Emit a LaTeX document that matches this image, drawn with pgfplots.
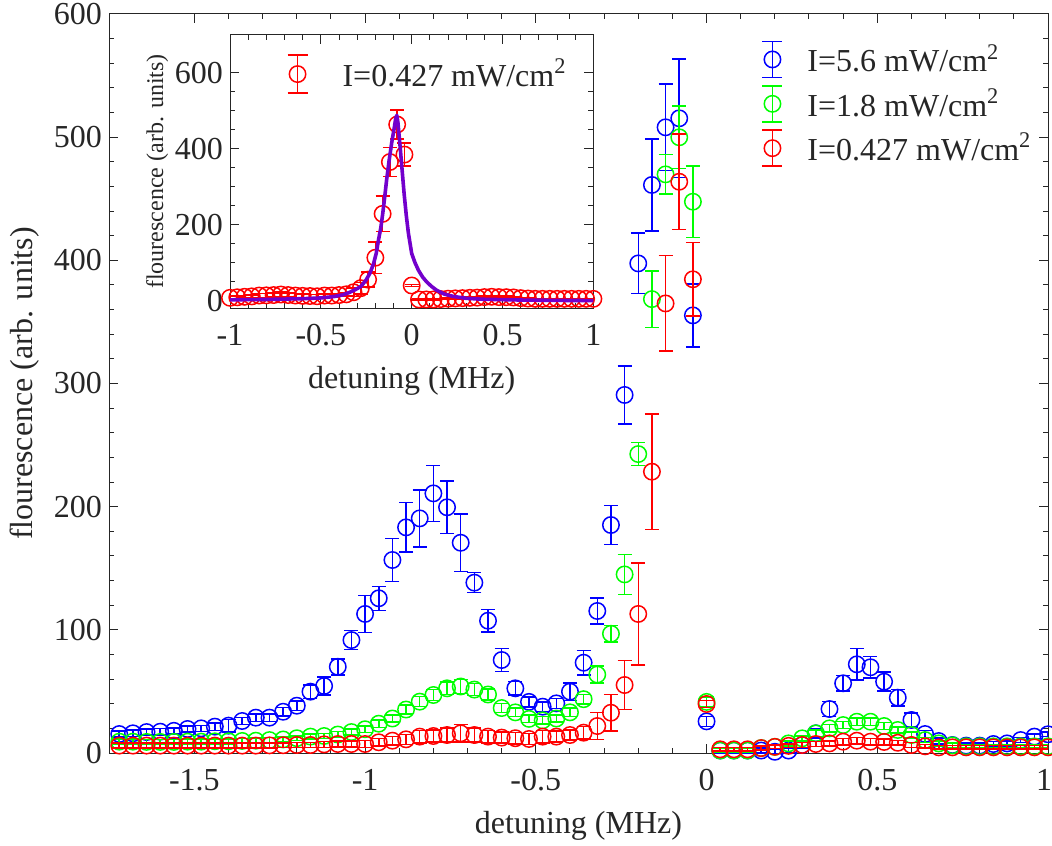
\documentclass[border=0pt]{standalone}
\usepackage{fontspec}
\setmainfont{Liberation Serif}
\usepackage{pgfplots}
\pgfplotsset{compat=1.18}
\usepackage{pgfplotstable}

\definecolor{mblue}{rgb}{0,0,1}
\definecolor{mgreen}{rgb}{0,1,0}
\definecolor{mred}{rgb}{1,0,0}
\definecolor{fitpurple}{rgb}{0.45,0.0,0.8}
\definecolor{axgray}{rgb}{0.15,0.15,0.15}
\newcommand\labfont{\fontsize{16pt}{19pt}\selectfont}
\newcommand\smallfont{\fontsize{12pt}{14pt}\selectfont}

\pgfplotstableread{
x y e
-1.72 15.4 2.5
-1.68 16.0 2.5
-1.64 17.0 2.5
-1.60 17.3 2.5
-1.56 18.0 2.5
-1.52 19.5 2.5
-1.48 20.0 2.5
-1.44 21.4 3
-1.40 22.2 5
-1.36 26.0 3
-1.32 28.7 3
-1.28 28.7 3
-1.24 33.5 3.5
-1.20 38.4 4
-1.16 49.8 5.4
-1.12 54.4 7.4
-1.08 70.0 6.5
-1.04 91.7 7.6
-1.00 112.9 15
-0.96 125.6 9.7
-0.92 156.7 17.3
-0.88 183.2 20.2
-0.84 190.5 23.1
-0.80 210.8 22.7
-0.76 199.5 21.2
-0.72 170.7 23.4
-0.68 138.3 8.1
-0.64 107.4 9.1
-0.60 75.5 9.5
-0.56 52.5 5.4
-0.52 41.5 4
-0.48 37.6 4
-0.44 40.3 4
-0.40 49.8 7
-0.36 73.3 9.9
-0.32 115.3 10.7
-0.28 185.1 15.8
-0.24 290.7 23.7
-0.20 397.5 24.6
-0.16 461.2 37.5
-0.12 508.0 35.2
-0.08 515.3 48.2
-0.04 355.3 25.5
0.00 25.7 4
0.04 2 2
0.08 2 2
0.12 2 2
0.16 2 2
0.20 1 2
0.24 2 2
0.28 6.5 3
0.32 16 4
0.36 35.7 6
0.40 56.6 6.4
0.44 72.0 12.9
0.48 69.6 8.8
0.52 57.9 7.7
0.56 44.9 6.8
0.60 26.8 5.7
0.64 15.4 3
0.68 9.7 2.5
0.72 6.5 2
0.76 6 2
0.80 6 2
0.84 7.3 2
0.88 7.8 2
0.92 10.5 2
0.96 13.3 2
1.00 15.2 2
}\blueT

\pgfplotstableread{
x y e
-1.72 9.2 2
-1.68 9.2 2
-1.64 9.0 2
-1.60 9.0 2
-1.56 9.0 2
-1.52 9.2 2
-1.48 9.2 2
-1.44 9.5 2
-1.40 9.5 2
-1.36 9.8 2
-1.32 10.0 2
-1.28 10.5 2
-1.24 11.0 2
-1.20 12.0 2
-1.16 13.3 2
-1.12 13.8 2
-1.08 15.0 2.5
-1.04 17.0 2.5
-1.00 19.3 2.5
-0.96 23.8 3
-0.92 28.0 3
-0.88 35.3 3.5
-0.84 41.7 4
-0.80 47.1 4.5
-0.76 52.5 5
-0.72 54.0 5.5
-0.68 51.5 5
-0.64 47.5 4.5
-0.60 36.5 3.5
-0.56 33.0 3.5
-0.52 27.7 3
-0.48 26.5 3
-0.44 28.0 3
-0.40 33.0 3.5
-0.36 43.7 4
-0.32 63.7 6.8
-0.28 96.8 6.8
-0.24 145.0 16.2
-0.20 242.7 9.3
-0.16 368.5 23
-0.12 469.8 16
-0.08 499.9 25.3
-0.04 447.6 29.1
0.00 41.5 4
0.04 2 1.5
0.08 2 1.5
0.12 2 1.5
0.16 4 1.5
0.20 5 1.5
0.24 7.8 2
0.28 11.9 2
0.32 16 2.5
0.36 20 3
0.40 22.7 3
0.44 25.4 3
0.48 25.4 3
0.52 21.9 3
0.56 18.7 2.5
0.60 14.6 2.5
0.64 10.5 2
0.68 7.8 2
0.72 6.2 2
0.76 5.4 1.5
0.80 5.4 1.5
0.84 5.4 1.5
0.88 5.4 1.5
0.92 5.4 1.5
0.96 5.4 1.5
1.00 5.4 1.5
}\greenT

\pgfplotstableread{
x y e
-1.72 6 2
-1.68 6 2
-1.64 6 2
-1.60 6 2
-1.56 6 2
-1.52 6 2
-1.48 6 2
-1.44 6 2
-1.40 6 2
-1.36 6 2
-1.32 6 2
-1.28 6.2 2
-1.24 6.3 2
-1.20 6.5 2
-1.16 6.5 2
-1.12 7.0 2.5
-1.08 7.3 2.5
-1.04 7.3 2.5
-1.00 7.3 3
-0.96 8.7 3
-0.92 10.0 3.5
-0.88 11.1 4
-0.84 13.3 5
-0.80 13.8 5
-0.76 14.6 5.5
-0.72 16.0 7
-0.68 14.6 5.5
-0.64 13.3 5
-0.60 12.5 4.5
-0.56 12.0 4.5
-0.52 11.4 4.5
-0.48 13.3 5
-0.44 13.3 4.5
-0.40 14.6 4
-0.36 16.5 5
-0.32 21.9 10.8
-0.28 32.7 14.9
-0.24 55.2 19.8
-0.20 112.9 41.5
-0.16 228.4 46.8
-0.12 365.0 38.8
-0.08 463.8 38.7
-0.04 384.6 29.8
0.00 39.8 3
0.04 3 1.5
0.08 3 1.5
0.12 3 1.5
0.16 4 1.5
0.20 5 1.5
0.24 5.8 1.5
0.28 6.5 2
0.32 7.3 2
0.36 7.8 2
0.40 9.2 2.5
0.44 10 2.5
0.48 9.2 2.5
0.52 9 2.5
0.56 8.3 2
0.60 6.5 2
0.64 5.4 1.5
0.68 4.6 1.5
0.72 4.6 1.5
0.76 4.6 1.5
0.80 4.6 1.5
0.84 4.6 1.5
0.88 4.6 1.5
0.92 4.6 1.5
0.96 4.6 1.5
1.00 4.6 1.5
}\redT

\pgfplotsset{
  matax/.style={
    scale only axis,
    tick align=inside,
    major tick length=4.5pt, minor tick length=2.5pt,
    axis line style={axgray, line width=0.5pt},
    every tick/.style={axgray, line width=0.5pt},
    tick label style={font=\labfont, text=axgray},
    label style={font=\labfont, text=axgray},
    xticklabel shift=4.5pt,
    clip mode=individual,
    legend cell align=left,
  },
  eb/.style={only marks, mark=o, mark size=4.1pt, line width=0.75pt,
    error bars/y dir=both, error bars/y explicit,
    error bars/error bar style={line width=0.75pt},
    error bars/error mark options={rotate=90, mark size=3.5pt, line width=0.75pt}},
  lgimg/.style={legend image code/.code={
    \draw[#1, line width=0.75pt] (8.5pt,-9pt) -- (8.5pt,9pt) (3.5pt,-9pt) -- (13.5pt,-9pt) (3.5pt,9pt) -- (13.5pt,9pt);
    \draw[#1, line width=0.75pt, mark=o, mark size=4.1pt, only marks] plot coordinates {(8.5pt,0pt)};
    \path[draw=none] (0pt,0pt) -- (24pt,0pt);
  }},
  lgimgB/.style={legend image code/.code={
    \draw[#1, line width=0.75pt] (8.5pt,-9.5pt) -- (8.5pt,9.5pt) (3.5pt,-9.5pt) -- (13.5pt,-9.5pt) (3.5pt,9.5pt) -- (13.5pt,9.5pt);
    \draw[#1, line width=0.75pt, mark=o, mark size=4.1pt, only marks] plot coordinates {(8.5pt,0pt)};
    \path[draw=none] (0pt,0pt) -- (29pt,0pt);
  }},
}

\begin{document}
\begin{tikzpicture}
\path[use as bounding box] (0,0) rectangle (526pt,422.5pt);
\begin{axis}[matax,
  at={(54.5pt,46pt)}, anchor=south west,
  width=469.5pt, height=369.5pt,
  xmin=-1.75, xmax=1, ymin=0, ymax=600,
  xtick={-1.5,-1,-0.5,0,0.5,1},
  xticklabels={-1.5,-1,-0.5,0,0.5,\makebox[0pt]{1\hspace{4pt}}},
  minor x tick num=4,
  ytick={0,100,200,300,400,500,600}, yticklabels={0,100,200,300,400,500,600},
  minor y tick num=4,
  xlabel={detuning (MHz)}, ylabel={flourescence (arb. units)},
  xlabel style={at={(axis description cs:0.5,-0.099)}, anchor=center},
  ylabel style={at={(axis description cs:-0.0895,0.5)}, anchor=center},
  legend style={draw=none, fill=none, inner sep=0pt, row sep=3pt,
    nodes={inner sep=2pt}, font=\labfont, text=axgray,
    at={(axis description cs:0.688,0.965)}, anchor=north west},
]
\addplot[mblue, eb, lgimg=mblue] table[x=x, y=y, y error=e] {\blueT};
\addlegendentry{I=5.6 mW/cm\textsuperscript{2}}
\addplot[mgreen, eb, lgimg=mgreen] table[x=x, y=y, y error=e] {\greenT};
\addlegendentry{I=1.8 mW/cm\textsuperscript{2}}
\addplot[mred, eb, lgimg=mred] table[x=x, y=y, y error=e] {\redT};
\addlegendentry{I=0.427 mW/cm\textsuperscript{2}}
\end{axis}

\begin{axis}[matax,
  at={(115pt,268.4pt)}, anchor=south west,
  width=181.7pt, height=136.7pt,
  axis background/.style={fill=white},
  xmin=-1, xmax=1, ymin=-20, ymax=700,
  xtick={-1,-0.5,0,0.5,1}, xticklabels={-1,-0.5,0,0.5,1},
  minor x tick num=4,
  ytick={0,200,400,600}, yticklabels={0,200,400,600},
  minor y tick num=3,
  xlabel={detuning (MHz)}, ylabel={flourescence (arb. units)},
  xlabel style={at={(axis description cs:0.5,-0.267)}, anchor=center},
  ylabel style={at={(axis description cs:-0.2,0.5)}, anchor=center, font=\smallfont},
  legend style={draw=none, fill=none, inner sep=0pt,
    nodes={inner sep=2pt}, font=\labfont, text=axgray,
    at={(axis description cs:0.138,0.93)}, anchor=north west},
]
\addplot[mred, eb, lgimgB=mred, restrict x to domain=-1.001:1.001] table[x=x, y=y, y error=e] {\redT};
\addlegendentry{I=0.427 mW/cm\textsuperscript{2}}
\addplot[fitpurple, line width=1.8pt, line join=round, forget plot] coordinates {
(-1.00,2) (-0.80,3) (-0.60,5) (-0.50,7) (-0.43,10.5) (-0.38,15) (-0.34,22)
(-0.31,29) (-0.28,37) (-0.25,55) (-0.23,72) (-0.21,97) (-0.195,125)
(-0.183,159) (-0.17,192) (-0.16,227) (-0.148,275) (-0.138,318) (-0.124,370)
(-0.110,416) (-0.096,455) (-0.088,480) (-0.082,488) (-0.076,470) (-0.064,407) (-0.053,345)
(-0.042,283) (-0.030,225) (-0.018,177) (0.0,124) (0.018,100) (0.037,80)
(0.06,62) (0.083,49) (0.11,37) (0.138,27) (0.18,17) (0.229,11) (0.30,6)
(0.394,3.5) (0.6,1.5) (0.8,0.5) (1.0,0)
};
\end{axis}
\end{tikzpicture}
\end{document}
